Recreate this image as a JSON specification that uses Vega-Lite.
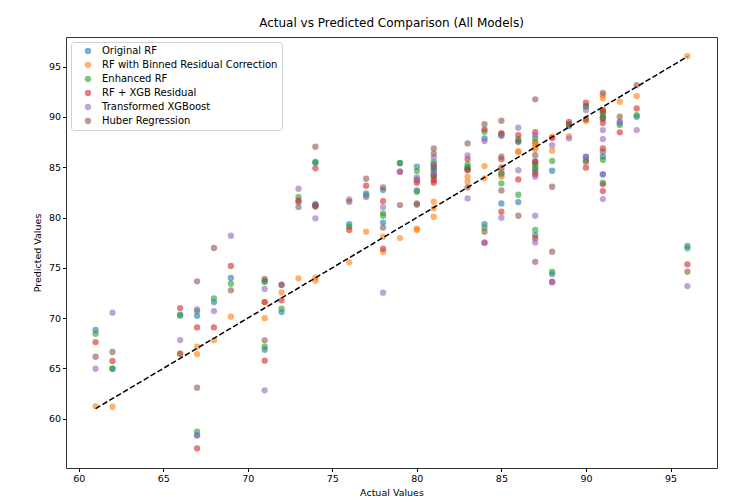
{
"$schema": "https://vega.github.io/schema/vega-lite/v6.json",
"width": 651, "height": 431,
"autosize": "none",
"padding": {"left": 66, "top": 37, "right": 17, "bottom": 34},
"background": "white",
"title": {"text": "Actual vs Predicted Comparison (All Models)", "fontSize": 12, "fontWeight": "normal", "font": "DejaVu Sans", "color": "black", "offset": 7},
"config": {
  "font": "DejaVu Sans",
  "view": {"stroke": "#333333", "strokeWidth": 1},
  "axis": {"labelFontSize": 9.5, "titleFontSize": 9.5, "labelColor": "black", "titleColor": "black", "tickColor": "black", "tickSize": 3.5, "domain": false, "grid": false, "titleFontWeight": "normal", "labelPadding": 2, "labelFont": "DejaVu Sans", "titleFont": "DejaVu Sans"},
  "legend": {"symbolOpacity": 0.6}
},
"datasets": {
"diag": [{"actual": 61, "predicted": 61}, {"actual": 96, "predicted": 96}],
"pts": [
{"model":"Original RF","actual":61,"predicted":68.82},{"model":"Original RF","actual":62,"predicted":64.97},{"model":"Original RF","actual":66,"predicted":70.35},{"model":"Original RF","actual":67,"predicted":70.24},{"model":"Original RF","actual":67,"predicted":58.35},{"model":"Original RF","actual":68,"predicted":71.6},{"model":"Original RF","actual":69,"predicted":73.99},{"model":"Original RF","actual":71,"predicted":73.7},{"model":"Original RF","actual":71,"predicted":66.86},{"model":"Original RF","actual":72,"predicted":70.6},{"model":"Original RF","actual":73,"predicted":81.54},{"model":"Original RF","actual":74,"predicted":85.45},{"model":"Original RF","actual":74,"predicted":81.2},{"model":"Original RF","actual":76,"predicted":79.35},{"model":"Original RF","actual":77,"predicted":82.4},{"model":"Original RF","actual":78,"predicted":82.73},{"model":"Original RF","actual":78,"predicted":79.5},{"model":"Original RF","actual":79,"predicted":85.4},{"model":"Original RF","actual":80,"predicted":85.05},{"model":"Original RF","actual":80,"predicted":82.7},{"model":"Original RF","actual":81,"predicted":85.3},{"model":"Original RF","actual":81,"predicted":84.8},{"model":"Original RF","actual":81,"predicted":84.2},{"model":"Original RF","actual":83,"predicted":85.0},{"model":"Original RF","actual":83,"predicted":84.8},{"model":"Original RF","actual":84,"predicted":87.87},{"model":"Original RF","actual":84,"predicted":79.35},{"model":"Original RF","actual":85,"predicted":88.2},{"model":"Original RF","actual":85,"predicted":84.3},{"model":"Original RF","actual":85,"predicted":81.4},{"model":"Original RF","actual":86,"predicted":87.6},{"model":"Original RF","actual":86,"predicted":81.54},{"model":"Original RF","actual":87,"predicted":87.5},{"model":"Original RF","actual":87,"predicted":84.8},{"model":"Original RF","actual":87,"predicted":78.26},{"model":"Original RF","actual":87,"predicted":85.6},{"model":"Original RF","actual":88,"predicted":84.65},{"model":"Original RF","actual":88,"predicted":74.38},{"model":"Original RF","actual":89,"predicted":89.1},{"model":"Original RF","actual":90,"predicted":91.1},{"model":"Original RF","actual":90,"predicted":86.05},{"model":"Original RF","actual":91,"predicted":90.3},{"model":"Original RF","actual":91,"predicted":89.9},{"model":"Original RF","actual":91,"predicted":86.05},{"model":"Original RF","actual":91,"predicted":84.3},{"model":"Original RF","actual":92,"predicted":89.5},{"model":"Original RF","actual":93,"predicted":90.02},{"model":"Original RF","actual":96,"predicted":77.17},
{"model":"RF with Binned Residual Correction","actual":61,"predicted":61.26},{"model":"RF with Binned Residual Correction","actual":62,"predicted":61.19},{"model":"RF with Binned Residual Correction","actual":66,"predicted":66.46},{"model":"RF with Binned Residual Correction","actual":67,"predicted":67.16},{"model":"RF with Binned Residual Correction","actual":67,"predicted":66.43},{"model":"RF with Binned Residual Correction","actual":68,"predicted":67.79},{"model":"RF with Binned Residual Correction","actual":69,"predicted":70.14},{"model":"RF with Binned Residual Correction","actual":71,"predicted":71.6},{"model":"RF with Binned Residual Correction","actual":71,"predicted":70.0},{"model":"RF with Binned Residual Correction","actual":72,"predicted":72.56},{"model":"RF with Binned Residual Correction","actual":73,"predicted":73.96},{"model":"RF with Binned Residual Correction","actual":74,"predicted":74.02},{"model":"RF with Binned Residual Correction","actual":74,"predicted":73.72},{"model":"RF with Binned Residual Correction","actual":76,"predicted":75.55},{"model":"RF with Binned Residual Correction","actual":77,"predicted":78.59},{"model":"RF with Binned Residual Correction","actual":78,"predicted":78.1},{"model":"RF with Binned Residual Correction","actual":78,"predicted":76.6},{"model":"RF with Binned Residual Correction","actual":79,"predicted":77.96},{"model":"RF with Binned Residual Correction","actual":80,"predicted":78.9},{"model":"RF with Binned Residual Correction","actual":80,"predicted":78.76},{"model":"RF with Binned Residual Correction","actual":81,"predicted":81.57},{"model":"RF with Binned Residual Correction","actual":81,"predicted":80.91},{"model":"RF with Binned Residual Correction","actual":81,"predicted":80.08},{"model":"RF with Binned Residual Correction","actual":83,"predicted":84.06},{"model":"RF with Binned Residual Correction","actual":83,"predicted":83.56},{"model":"RF with Binned Residual Correction","actual":84,"predicted":85.12},{"model":"RF with Binned Residual Correction","actual":84,"predicted":83.9},{"model":"RF with Binned Residual Correction","actual":85,"predicted":85.0},{"model":"RF with Binned Residual Correction","actual":85,"predicted":84.55},{"model":"RF with Binned Residual Correction","actual":85,"predicted":84.06},{"model":"RF with Binned Residual Correction","actual":86,"predicted":86.5},{"model":"RF with Binned Residual Correction","actual":86,"predicted":86.6},{"model":"RF with Binned Residual Correction","actual":87,"predicted":87.3},{"model":"RF with Binned Residual Correction","actual":87,"predicted":87.0},{"model":"RF with Binned Residual Correction","actual":87,"predicted":86.8},{"model":"RF with Binned Residual Correction","actual":87,"predicted":87.5},{"model":"RF with Binned Residual Correction","actual":88,"predicted":88.03},{"model":"RF with Binned Residual Correction","actual":88,"predicted":86.64},{"model":"RF with Binned Residual Correction","actual":89,"predicted":88.1},{"model":"RF with Binned Residual Correction","actual":90,"predicted":89.69},{"model":"RF with Binned Residual Correction","actual":90,"predicted":89.6},{"model":"RF with Binned Residual Correction","actual":91,"predicted":92.17},{"model":"RF with Binned Residual Correction","actual":91,"predicted":91.84},{"model":"RF with Binned Residual Correction","actual":91,"predicted":90.68},{"model":"RF with Binned Residual Correction","actual":91,"predicted":90.5},{"model":"RF with Binned Residual Correction","actual":92,"predicted":91.51},{"model":"RF with Binned Residual Correction","actual":93,"predicted":92.08},{"model":"RF with Binned Residual Correction","actual":96,"predicted":96.05},
{"model":"Enhanced RF","actual":61,"predicted":68.45},{"model":"Enhanced RF","actual":62,"predicted":64.97},{"model":"Enhanced RF","actual":66,"predicted":70.24},{"model":"Enhanced RF","actual":67,"predicted":70.7},{"model":"Enhanced RF","actual":67,"predicted":58.71},{"model":"Enhanced RF","actual":68,"predicted":71.97},{"model":"Enhanced RF","actual":69,"predicted":73.42},{"model":"Enhanced RF","actual":71,"predicted":73.6},{"model":"Enhanced RF","actual":71,"predicted":67.16},{"model":"Enhanced RF","actual":72,"predicted":70.94},{"model":"Enhanced RF","actual":73,"predicted":82.04},{"model":"Enhanced RF","actual":74,"predicted":85.52},{"model":"Enhanced RF","actual":74,"predicted":81.2},{"model":"Enhanced RF","actual":76,"predicted":79.09},{"model":"Enhanced RF","actual":77,"predicted":82.2},{"model":"Enhanced RF","actual":78,"predicted":80.42},{"model":"Enhanced RF","actual":78,"predicted":80.18},{"model":"Enhanced RF","actual":79,"predicted":85.42},{"model":"Enhanced RF","actual":80,"predicted":84.62},{"model":"Enhanced RF","actual":80,"predicted":82.56},{"model":"Enhanced RF","actual":81,"predicted":85.5},{"model":"Enhanced RF","actual":81,"predicted":84.6},{"model":"Enhanced RF","actual":81,"predicted":84.0},{"model":"Enhanced RF","actual":83,"predicted":85.28},{"model":"Enhanced RF","actual":83,"predicted":84.9},{"model":"Enhanced RF","actual":84,"predicted":88.53},{"model":"Enhanced RF","actual":84,"predicted":78.99},{"model":"Enhanced RF","actual":85,"predicted":88.3},{"model":"Enhanced RF","actual":85,"predicted":84.4},{"model":"Enhanced RF","actual":85,"predicted":83.4},{"model":"Enhanced RF","actual":86,"predicted":87.8},{"model":"Enhanced RF","actual":86,"predicted":82.27},{"model":"Enhanced RF","actual":87,"predicted":87.9},{"model":"Enhanced RF","actual":87,"predicted":85.0},{"model":"Enhanced RF","actual":87,"predicted":78.76},{"model":"Enhanced RF","actual":87,"predicted":85.3},{"model":"Enhanced RF","actual":88,"predicted":85.62},{"model":"Enhanced RF","actual":88,"predicted":74.61},{"model":"Enhanced RF","actual":89,"predicted":89.3},{"model":"Enhanced RF","actual":90,"predicted":91.0},{"model":"Enhanced RF","actual":90,"predicted":85.7},{"model":"Enhanced RF","actual":91,"predicted":90.5},{"model":"Enhanced RF","actual":91,"predicted":90.0},{"model":"Enhanced RF","actual":91,"predicted":85.72},{"model":"Enhanced RF","actual":91,"predicted":83.46},{"model":"Enhanced RF","actual":92,"predicted":89.2},{"model":"Enhanced RF","actual":93,"predicted":90.19},{"model":"Enhanced RF","actual":96,"predicted":76.94},
{"model":"RF + XGB Residual","actual":61,"predicted":67.62},{"model":"RF + XGB Residual","actual":62,"predicted":65.74},{"model":"RF + XGB Residual","actual":66,"predicted":71.0},{"model":"RF + XGB Residual","actual":67,"predicted":69.08},{"model":"RF + XGB Residual","actual":67,"predicted":57.05},{"model":"RF + XGB Residual","actual":68,"predicted":69.08},{"model":"RF + XGB Residual","actual":69,"predicted":75.18},{"model":"RF + XGB Residual","actual":71,"predicted":71.6},{"model":"RF + XGB Residual","actual":71,"predicted":65.77},{"model":"RF + XGB Residual","actual":72,"predicted":71.77},{"model":"RF + XGB Residual","actual":73,"predicted":81.7},{"model":"RF + XGB Residual","actual":74,"predicted":84.89},{"model":"RF + XGB Residual","actual":74,"predicted":81.1},{"model":"RF + XGB Residual","actual":76,"predicted":78.76},{"model":"RF + XGB Residual","actual":77,"predicted":83.16},{"model":"RF + XGB Residual","actual":78,"predicted":81.64},{"model":"RF + XGB Residual","actual":78,"predicted":76.9},{"model":"RF + XGB Residual","actual":79,"predicted":84.55},{"model":"RF + XGB Residual","actual":80,"predicted":83.7},{"model":"RF + XGB Residual","actual":80,"predicted":83.46},{"model":"RF + XGB Residual","actual":81,"predicted":84.2},{"model":"RF + XGB Residual","actual":81,"predicted":83.46},{"model":"RF + XGB Residual","actual":81,"predicted":83.7},{"model":"RF + XGB Residual","actual":83,"predicted":85.81},{"model":"RF + XGB Residual","actual":83,"predicted":84.7},{"model":"RF + XGB Residual","actual":84,"predicted":88.77},{"model":"RF + XGB Residual","actual":84,"predicted":77.5},{"model":"RF + XGB Residual","actual":85,"predicted":88.4},{"model":"RF + XGB Residual","actual":85,"predicted":85.8},{"model":"RF + XGB Residual","actual":85,"predicted":80.58},{"model":"RF + XGB Residual","actual":86,"predicted":88.2},{"model":"RF + XGB Residual","actual":86,"predicted":83.79},{"model":"RF + XGB Residual","actual":87,"predicted":88.5},{"model":"RF + XGB Residual","actual":87,"predicted":85.5},{"model":"RF + XGB Residual","actual":87,"predicted":77.93},{"model":"RF + XGB Residual","actual":87,"predicted":84.3},{"model":"RF + XGB Residual","actual":88,"predicted":87.9},{"model":"RF + XGB Residual","actual":88,"predicted":73.62},{"model":"RF + XGB Residual","actual":89,"predicted":89.5},{"model":"RF + XGB Residual","actual":90,"predicted":91.41},{"model":"RF + XGB Residual","actual":90,"predicted":84.96},{"model":"RF + XGB Residual","actual":91,"predicted":90.68},{"model":"RF + XGB Residual","actual":91,"predicted":89.4},{"model":"RF + XGB Residual","actual":91,"predicted":86.88},{"model":"RF + XGB Residual","actual":91,"predicted":82.63},{"model":"RF + XGB Residual","actual":92,"predicted":88.47},{"model":"RF + XGB Residual","actual":93,"predicted":90.85},{"model":"RF + XGB Residual","actual":96,"predicted":75.35},
{"model":"Transformed XGBoost","actual":61,"predicted":64.97},{"model":"Transformed XGBoost","actual":62,"predicted":70.54},{"model":"Transformed XGBoost","actual":66,"predicted":67.82},{"model":"Transformed XGBoost","actual":67,"predicted":70.87},{"model":"Transformed XGBoost","actual":67,"predicted":58.35},{"model":"Transformed XGBoost","actual":68,"predicted":70.7},{"model":"Transformed XGBoost","actual":69,"predicted":78.19},{"model":"Transformed XGBoost","actual":71,"predicted":72.9},{"model":"Transformed XGBoost","actual":71,"predicted":62.82},{"model":"Transformed XGBoost","actual":72,"predicted":73.3},{"model":"Transformed XGBoost","actual":73,"predicted":82.86},{"model":"Transformed XGBoost","actual":74,"predicted":81.3},{"model":"Transformed XGBoost","actual":74,"predicted":79.92},{"model":"Transformed XGBoost","actual":76,"predicted":81.81},{"model":"Transformed XGBoost","actual":77,"predicted":82.04},{"model":"Transformed XGBoost","actual":78,"predicted":81.04},{"model":"Transformed XGBoost","actual":78,"predicted":72.53},{"model":"Transformed XGBoost","actual":79,"predicted":84.55},{"model":"Transformed XGBoost","actual":80,"predicted":84.0},{"model":"Transformed XGBoost","actual":80,"predicted":83.8},{"model":"Transformed XGBoost","actual":81,"predicted":85.98},{"model":"Transformed XGBoost","actual":81,"predicted":85.2},{"model":"Transformed XGBoost","actual":81,"predicted":84.4},{"model":"Transformed XGBoost","actual":83,"predicted":86.18},{"model":"Transformed XGBoost","actual":83,"predicted":81.9},{"model":"Transformed XGBoost","actual":84,"predicted":87.6},{"model":"Transformed XGBoost","actual":84,"predicted":77.5},{"model":"Transformed XGBoost","actual":85,"predicted":88.1},{"model":"Transformed XGBoost","actual":85,"predicted":84.9},{"model":"Transformed XGBoost","actual":85,"predicted":79.98},{"model":"Transformed XGBoost","actual":86,"predicted":88.93},{"model":"Transformed XGBoost","actual":86,"predicted":84.7},{"model":"Transformed XGBoost","actual":87,"predicted":88.2},{"model":"Transformed XGBoost","actual":87,"predicted":84.06},{"model":"Transformed XGBoost","actual":87,"predicted":80.18},{"model":"Transformed XGBoost","actual":87,"predicted":77.53},{"model":"Transformed XGBoost","actual":88,"predicted":87.2},{"model":"Transformed XGBoost","actual":88,"predicted":73.55},{"model":"Transformed XGBoost","actual":89,"predicted":87.87},{"model":"Transformed XGBoost","actual":90,"predicted":90.68},{"model":"Transformed XGBoost","actual":90,"predicted":86.0},{"model":"Transformed XGBoost","actual":91,"predicted":88.7},{"model":"Transformed XGBoost","actual":91,"predicted":87.8},{"model":"Transformed XGBoost","actual":91,"predicted":84.3},{"model":"Transformed XGBoost","actual":91,"predicted":81.84},{"model":"Transformed XGBoost","actual":92,"predicted":89.4},{"model":"Transformed XGBoost","actual":93,"predicted":88.7},{"model":"Transformed XGBoost","actual":96,"predicted":73.19},
{"model":"Huber Regression","actual":61,"predicted":66.16},{"model":"Huber Regression","actual":62,"predicted":66.63},{"model":"Huber Regression","actual":66,"predicted":66.46},{"model":"Huber Regression","actual":67,"predicted":73.66},{"model":"Huber Regression","actual":67,"predicted":63.08},{"model":"Huber Regression","actual":68,"predicted":76.97},{"model":"Huber Regression","actual":69,"predicted":72.76},{"model":"Huber Regression","actual":71,"predicted":73.89},{"model":"Huber Regression","actual":71,"predicted":67.79},{"model":"Huber Regression","actual":72,"predicted":73.32},{"model":"Huber Regression","actual":73,"predicted":81.04},{"model":"Huber Regression","actual":74,"predicted":87.04},{"model":"Huber Regression","actual":74,"predicted":81.3},{"model":"Huber Regression","actual":76,"predicted":81.57},{"model":"Huber Regression","actual":77,"predicted":83.86},{"model":"Huber Regression","actual":78,"predicted":83.0},{"model":"Huber Regression","actual":78,"predicted":79.0},{"model":"Huber Regression","actual":79,"predicted":81.24},{"model":"Huber Regression","actual":80,"predicted":81.4},{"model":"Huber Regression","actual":80,"predicted":81.27},{"model":"Huber Regression","actual":81,"predicted":86.88},{"model":"Huber Regression","actual":81,"predicted":86.38},{"model":"Huber Regression","actual":81,"predicted":85.0},{"model":"Huber Regression","actual":83,"predicted":87.37},{"model":"Huber Regression","actual":83,"predicted":83.0},{"model":"Huber Regression","actual":84,"predicted":89.29},{"model":"Huber Regression","actual":84,"predicted":78.59},{"model":"Huber Regression","actual":85,"predicted":89.62},{"model":"Huber Regression","actual":85,"predicted":86.05},{"model":"Huber Regression","actual":85,"predicted":82.7},{"model":"Huber Regression","actual":86,"predicted":87.5},{"model":"Huber Regression","actual":86,"predicted":80.18},{"model":"Huber Regression","actual":87,"predicted":91.75},{"model":"Huber Regression","actual":87,"predicted":86.2},{"model":"Huber Regression","actual":87,"predicted":75.6},{"model":"Huber Regression","actual":87,"predicted":84.5},{"model":"Huber Regression","actual":88,"predicted":83.06},{"model":"Huber Regression","actual":88,"predicted":76.6},{"model":"Huber Regression","actual":89,"predicted":89.2},{"model":"Huber Regression","actual":90,"predicted":89.8},{"model":"Huber Regression","actual":90,"predicted":85.55},{"model":"Huber Regression","actual":91,"predicted":92.4},{"model":"Huber Regression","actual":91,"predicted":89.8},{"model":"Huber Regression","actual":91,"predicted":86.54},{"model":"Huber Regression","actual":91,"predicted":83.3},{"model":"Huber Regression","actual":92,"predicted":90.02},{"model":"Huber Regression","actual":93,"predicted":93.17},{"model":"Huber Regression","actual":96,"predicted":74.61}
]},
"layer": [
{"data": {"name": "pts"},
 "mark": {"type": "circle", "size": 40, "opacity": 0.6},
 "encoding": {
  "x": {"field": "actual", "type": "quantitative", "scale": {"domain": [59.25, 97.75], "nice": false, "zero": false}, "axis": {"title": "Actual Values", "values": [60,65,70,75,80,85,90,95], "titlePadding": 4}},
  "y": {"field": "predicted", "type": "quantitative", "scale": {"domain": [55.1, 97.95], "nice": false, "zero": false}, "axis": {"title": "Predicted Values", "values": [60,65,70,75,80,85,90,95], "titlePadding": 6}},
  "color": {"field": "model", "type": "nominal",
   "scale": {"domain": ["Original RF","RF with Binned Residual Correction","Enhanced RF","RF + XGB Residual","Transformed XGBoost","Huber Regression"], "range": ["#1f77b4","#ff7f0e","#2ca02c","#d62728","#9467bd","#8c564b"]},
   "legend": {"title": null, "orient": "top-left", "offset": 5, "padding": 4, "fillColor": "white", "strokeColor": "#d0d0d0", "cornerRadius": 3, "labelFontSize": 10, "labelLimit": 0, "labelColor": "black", "symbolSize": 40, "symbolType": "circle", "rowPadding": 4, "labelOffset": 9, "symbolOffset": 8, "symbolOpacity": 0.6, "symbolStrokeWidth": 0}
  }
 }
},
{"data": {"name": "diag"},
 "mark": {"type": "line", "color": "black", "strokeDash": [5.5, 2.5], "strokeWidth": 1.5},
 "encoding": {
  "x": {"field": "actual", "type": "quantitative"},
  "y": {"field": "predicted", "type": "quantitative"}
 }
}
]
}
